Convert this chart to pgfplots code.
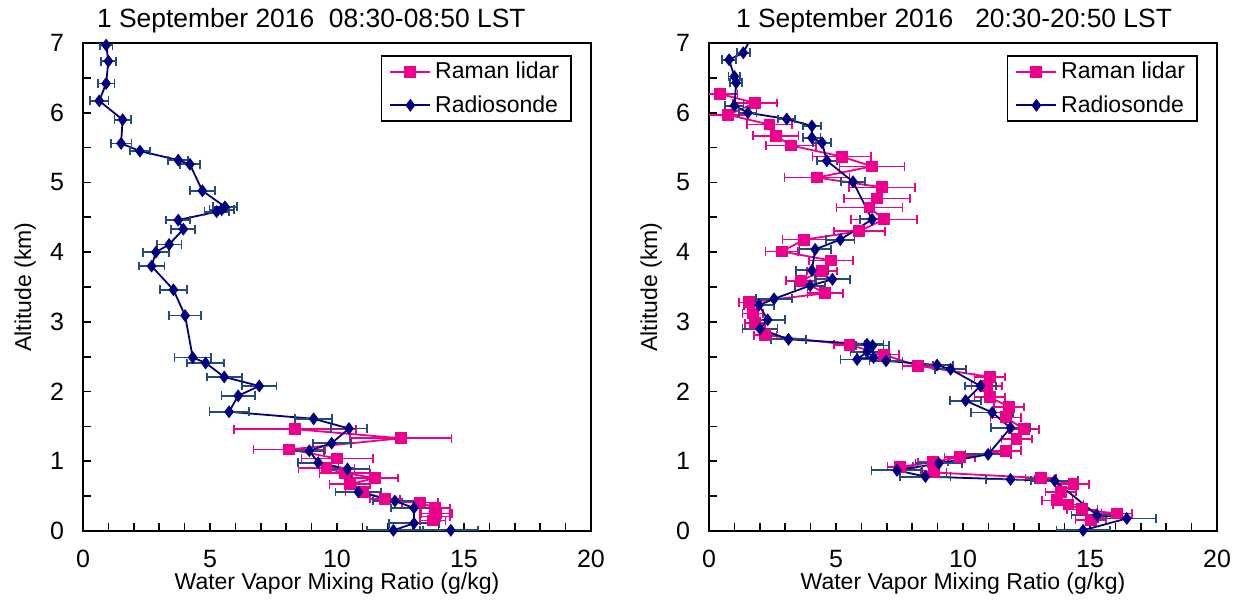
\documentclass[border=0pt]{standalone}
\usepackage{fontspec}
\setmainfont{Liberation Sans}
\usepackage{pgfplots}
\usepackage{pgfplotstable}
\pgfplotsset{compat=1.18}
\definecolor{lidar}{RGB}{236,0,140}
\definecolor{sonde}{RGB}{0,0,128}
\definecolor{sondeerr}{RGB}{35,75,125}

\pgfplotstableread{
x y ex
0.91 6.97 0.25
1.00 6.74 0.29
0.91 6.42 0.33
0.64 6.17 0.36
1.56 5.90 0.32
1.50 5.56 0.41
2.24 5.45 0.39
3.75 5.32 0.39
4.21 5.26 0.40
4.70 4.88 0.50
5.59 4.65 0.48
5.46 4.61 0.48
5.26 4.58 0.48
3.75 4.46 0.47
3.95 4.33 0.47
3.39 4.11 0.49
2.87 4.00 0.51
2.70 3.80 0.51
3.56 3.46 0.54
4.02 3.09 0.62
4.32 2.49 0.72
4.83 2.41 0.73
5.56 2.21 0.69
6.94 2.08 0.68
6.11 1.94 0.66
5.75 1.71 0.77
9.08 1.61 0.72
10.47 1.47 0.71
9.79 1.26 0.75
8.91 1.15 0.59
9.26 0.98 0.80
10.41 0.89 0.87
10.84 0.56 0.90
12.28 0.43 0.85
13.03 0.33 0.89
13.03 0.11 0.98
12.22 0.01 1.05
14.48 0.01 1.08
}\leftsonde

\pgfplotstableread{
x y ex
8.35 1.46 2.40
12.51 1.33 2.00
8.12 1.17 1.40
10.01 1.04 1.40
9.59 0.90 1.10
10.31 0.83 1.00
11.50 0.76 0.90
10.51 0.67 0.80
11.04 0.56 0.70
11.89 0.46 0.60
13.27 0.41 0.70
13.86 0.33 0.60
13.92 0.25 0.60
13.86 0.21 0.60
13.77 0.15 0.50
}\leftlidar

\pgfplotstableread{
x y ex
1.35 6.86 0.25
0.79 6.76 0.28
1.00 6.52 0.23
1.07 6.43 0.23
1.00 6.10 0.36
1.53 6.00 0.34
3.06 5.91 0.33
4.05 5.81 0.36
4.05 5.64 0.34
4.45 5.57 0.36
4.64 5.31 0.39
5.67 5.01 0.46
6.42 4.47 0.49
5.17 4.18 0.56
4.18 4.04 0.62
4.05 3.74 0.62
4.86 3.61 0.69
3.98 3.52 0.60
2.56 3.33 0.72
1.97 3.24 0.60
2.31 3.03 0.68
2.01 2.90 0.69
3.13 2.75 0.69
6.22 2.68 0.65
6.44 2.66 0.65
6.22 2.57 0.65
5.83 2.46 0.65
6.48 2.49 0.65
6.97 2.44 0.65
8.98 2.38 0.62
9.51 2.32 0.60
10.69 2.08 0.61
10.10 1.87 0.62
11.15 1.70 0.83
11.87 1.48 0.76
10.99 1.10 0.89
9.05 0.97 0.92
7.40 0.87 1.00
8.52 0.78 0.99
11.87 0.74 0.97
13.61 0.72 0.93
15.27 0.23 1.00
16.45 0.18 1.15
14.73 0.01 1.05
}\rightsonde

\pgfplotstableread{
x y ex
0.43 6.27 0.69
1.81 6.14 0.87
0.76 5.97 0.80
2.38 5.83 0.89
2.63 5.67 0.90
3.23 5.53 0.99
5.23 5.37 1.15
6.42 5.23 1.28
4.25 5.07 1.28
6.81 4.93 1.30
6.61 4.77 1.30
6.32 4.64 1.30
6.88 4.47 1.30
5.92 4.30 1.00
3.75 4.18 0.85
2.87 4.01 0.64
4.80 3.88 0.87
4.45 3.73 0.60
3.62 3.59 0.60
4.58 3.41 0.70
1.58 3.28 0.40
1.72 3.12 0.40
1.81 2.98 0.40
2.21 2.81 0.45
5.53 2.67 0.60
6.88 2.53 0.60
8.22 2.37 0.60
11.06 2.21 0.60
10.93 2.08 0.60
11.06 1.92 0.60
11.81 1.78 0.60
11.68 1.63 0.60
12.40 1.46 0.60
12.11 1.32 0.60
11.68 1.15 0.60
9.87 1.06 0.60
8.82 0.99 0.60
7.53 0.92 0.50
8.85 0.84 0.50
13.06 0.76 0.60
14.35 0.67 0.60
13.85 0.56 0.60
13.71 0.44 0.60
14.15 0.38 0.60
14.70 0.31 0.60
16.06 0.25 0.60
15.03 0.16 0.60
}\rightlidar

\pgfplotsset{
  panel/.style={
    scale only axis, width=254pt, height=244pt,
    anchor=south west,
    xmin=0, xmax=20, ymin=0, ymax=7,
    xtick={0,5,10,15,20}, minor x tick num=4,
    ytick={0,1,...,7}, minor y tick num=1,
    tick align=inside, tick pos=left,
    major tick length=4pt, minor tick length=4pt,
    every tick/.style={black, line width=0.8pt},
    axis line style={line width=1.1pt},
    /pgf/number format/assume math mode=true,
    tick label style={font=\fontsize{12.5}{14}\selectfont},
    xticklabel style={yshift=-6pt},
    yticklabel style={xshift=-6pt},
    xlabel={Water Vapor Mixing Ratio (g/kg)},
    ylabel={Altitude (km)},
    label style={font=\fontsize{11.5}{13}\selectfont},
    xlabel style={at={(axis description cs:0.5,-0.108)}, anchor=center, inner sep=1pt},
    ylabel style={at={(axis description cs:-0.114,0.5)}, anchor=center},
    legend style={at={(axis description cs:1,1)}, anchor=north east,
      xshift=-9.5pt, yshift=-6pt, draw=black, line width=0.8pt,
      font=\fontsize{11.5}{13}\selectfont, inner xsep=4pt, inner ysep=1pt,
      row sep=3pt, cells={anchor=west}},
    legend image code/.code={\draw[mark repeat=2,mark phase=2] plot coordinates {(0cm,0cm) (0.35cm,0cm) (0.7cm,0cm)};},
  },
  lidarplot/.style={lidar, line width=0.9pt, mark=square*, mark size=2.5pt,
    error bars/.cd, x dir=both, x explicit,
    error bar style={line width=0.8pt, lidar},
    error mark options={lidar, line width=0.8pt, mark size=2.2pt, rotate=90}},
  sondeplot/.style={sonde, line width=0.9pt, mark=diamond*, mark size=2.5pt,
    error bars/.cd, x dir=both, x explicit,
    error bar style={line width=0.9pt, sondeerr},
    error mark options={sondeerr, line width=0.9pt, mark size=2.2pt, rotate=90}},
}

\begin{document}
\begin{tikzpicture}
\begin{axis}[panel, at={(0pt,0pt)}]
\addplot[lidarplot] table[x=x, y=y, x error=ex]{\leftlidar};
\addlegendentry{Raman lidar}
\addplot[sondeplot] table[x=x, y=y, x error=ex]{\leftsonde};
\addlegendentry{Radiosonde}
\end{axis}
\begin{axis}[panel, at={(313pt,0pt)}]
\addplot[lidarplot] table[x=x, y=y, x error=ex]{\rightlidar};
\addlegendentry{Raman lidar}
\addplot[sondeplot] table[x=x, y=y, x error=ex]{\rightsonde};
\addlegendentry{Radiosonde}
\addplot[sonde, line width=0.9pt, forget plot] coordinates {(1.35,6.86) (1.97,7.3)};
\end{axis}
\node[anchor=base west, font=\fontsize{13.2}{15}\selectfont] at (3.5pt,251.7pt) {1 September 2016\ \ 08:30-08:50 LST};
\node[anchor=base west, font=\fontsize{13.2}{15}\selectfont] at (323pt,251.7pt) {1 September 2016\ \ \ 20:30-20:50 LST};
\pgfresetboundingbox
\useasboundingbox (-41.5pt,-40pt) rectangle (577.5pt,265.5pt);
\end{tikzpicture}
\end{document}
